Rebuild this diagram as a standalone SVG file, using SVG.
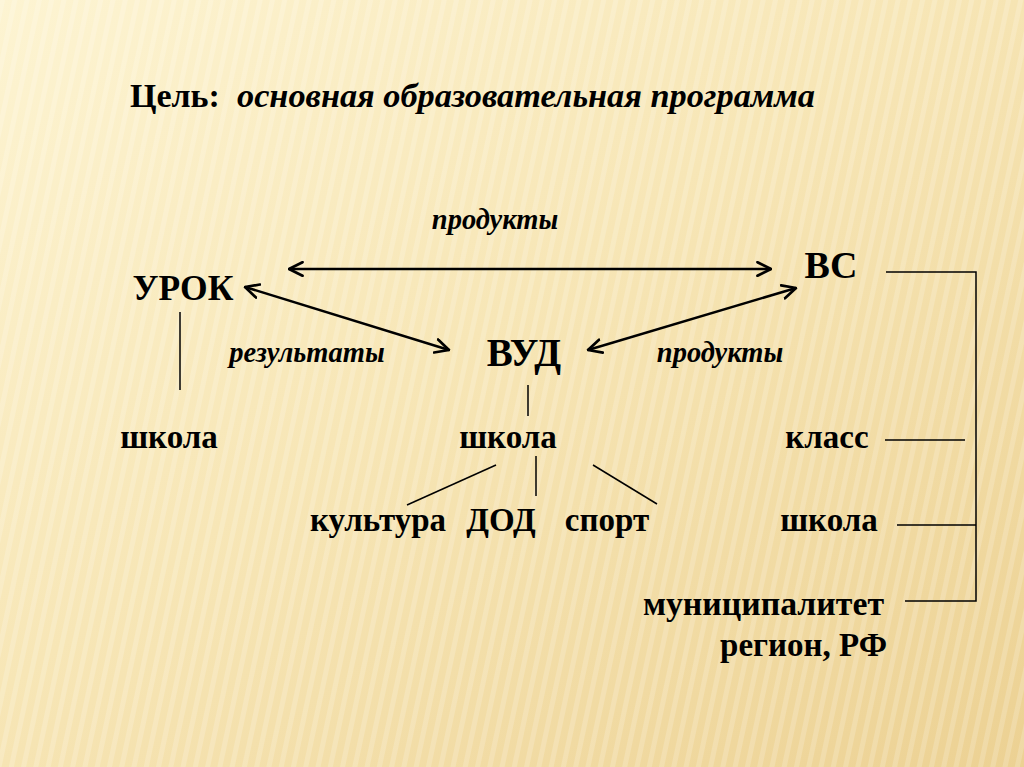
<svg xmlns="http://www.w3.org/2000/svg" width="1024" height="767" viewBox="0 0 1024 767">
<defs>
<linearGradient id="bg" x1="0" y1="0" x2="1" y2="1">
<stop offset="0" stop-color="#FDF4D2"/>
<stop offset="0.45" stop-color="#F7E6B6"/>
<stop offset="1" stop-color="#ECD193"/>
</linearGradient>
<pattern id="stripes" width="12" height="12" patternUnits="userSpaceOnUse" patternTransform="rotate(12)">
<rect width="5" height="12" fill="#FFFFFF" opacity="0.18"/>
</pattern>
<marker id="ah" viewBox="0 0 12 12" refX="11" refY="6" markerWidth="6.5" markerHeight="6.5" orient="auto-start-reverse" markerUnits="strokeWidth">
<path d="M1,1 L11,6 L1,11" fill="none" stroke="#000" stroke-width="2" stroke-linecap="round" stroke-linejoin="round"/>
</marker>
<style>
.c{stroke:#000;stroke-width:1.5;fill:none}
.a{stroke:#000;stroke-width:2.5;fill:none;marker-start:url(#ah);marker-end:url(#ah)}
</style>
</defs>
<rect width="1024" height="767" fill="url(#bg)"/>
<rect width="1024" height="767" fill="url(#stripes)"/>

<g id="connectors">
<line class="a" x1="289" y1="269" x2="771" y2="269"/>
<line class="a" x1="245" y1="287" x2="449" y2="350"/>
<line class="a" x1="796" y1="288" x2="588" y2="350"/>
<line class="c" x1="180" y1="312" x2="180" y2="390"/>
<line class="c" x1="528" y1="385" x2="528" y2="416"/>
<line class="c" x1="496" y1="465" x2="407" y2="505"/>
<line class="c" x1="536" y1="456" x2="536" y2="496"/>
<line class="c" x1="593" y1="465" x2="657" y2="504"/>
<polyline class="c" points="886,272 976,272 976,601 905,601"/>
<line class="c" x1="885" y1="440" x2="965" y2="440"/>
<line class="c" x1="897" y1="525" x2="976" y2="525"/>
</g>

<g id="title">
<text font-family="Liberation Serif" font-weight="bold" x="130" y="107" font-size="34">Цель:</text>
<text font-family="Liberation Serif" font-weight="bold" font-style="italic" x="237" y="107" font-size="34.3">основная образовательная программа</text>
</g>
<g id="label-produkty-top"><text font-family="Liberation Serif" font-weight="bold" font-style="italic" x="495" y="229" font-size="28.5" text-anchor="middle">продукты</text></g>
<g id="node-vs"><text font-family="Liberation Serif" font-weight="bold" x="831" y="278" font-size="38" text-anchor="middle">ВС</text></g>
<g id="node-urok"><text font-family="Liberation Serif" font-weight="bold" x="183" y="300" font-size="35.5" text-anchor="middle">УРОК</text></g>
<g id="node-vud"><text font-family="Liberation Serif" font-weight="bold" x="524" y="366" font-size="39" text-anchor="middle">ВУД</text></g>
<g id="label-rezultaty"><text font-family="Liberation Serif" font-weight="bold" font-style="italic" x="307" y="362" font-size="28.5" text-anchor="middle">результаты</text></g>
<g id="label-produkty-right"><text font-family="Liberation Serif" font-weight="bold" font-style="italic" x="720" y="362" font-size="28.5" text-anchor="middle">продукты</text></g>
<g id="node-shkola-left"><text font-family="Liberation Serif" font-weight="bold" x="169" y="448" font-size="33" text-anchor="middle">школа</text></g>
<g id="node-shkola-mid"><text font-family="Liberation Serif" font-weight="bold" x="508" y="448" font-size="33" text-anchor="middle">школа</text></g>
<g id="node-klass"><text font-family="Liberation Serif" font-weight="bold" x="827" y="448" font-size="33" text-anchor="middle">класс</text></g>
<g id="node-kultura"><text font-family="Liberation Serif" font-weight="bold" x="378" y="531" font-size="33" text-anchor="middle">культура</text></g>
<g id="node-dod"><text font-family="Liberation Serif" font-weight="bold" x="501" y="531" font-size="33" text-anchor="middle">ДОД</text></g>
<g id="node-sport"><text font-family="Liberation Serif" font-weight="bold" x="607" y="531" font-size="33" text-anchor="middle">спорт</text></g>
<g id="node-shkola-right"><text font-family="Liberation Serif" font-weight="bold" x="829" y="531" font-size="33" text-anchor="middle">школа</text></g>
<g id="node-municipalitet"><text font-family="Liberation Serif" font-weight="bold" x="884" y="615" font-size="33.8" text-anchor="end">муниципалитет</text></g>
<g id="node-region"><text font-family="Liberation Serif" font-weight="bold" x="887" y="656" font-size="33" text-anchor="end">регион, РФ</text></g>
</svg>
